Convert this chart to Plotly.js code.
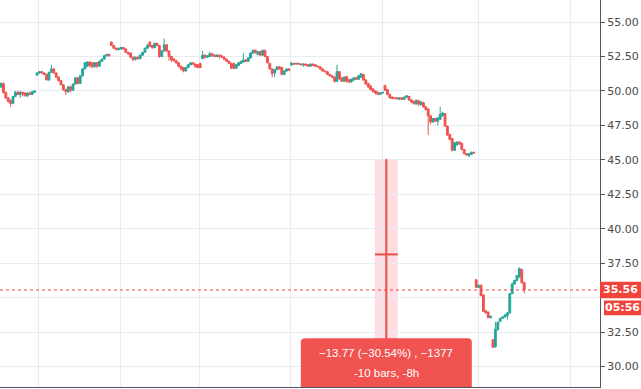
<!DOCTYPE html>
<html><head><meta charset="utf-8">
<script src="https://cdn.plot.ly/plotly-3.0.1.min.js"></script>
<style>html,body{margin:0;padding:0;background:#fff;overflow:hidden}#chart{width:641px;height:389px}</style>
</head><body><div id="chart"></div>
<script>
// OHLC values, one entry per bar
const open = [
50.3,50.55,49.9,49.5,49.3,49.1,49.6,49.9,49.75,49.9,49.85,49.65,49.85,49.75,49.9,
51.15,51.3,51.4,51.3,51.2,50.8,51.35,51.6,51.3,51.0,50.75,50.45,50.1,49.95,50.3,
50.05,50.5,50.95,50.55,51.1,51.6,51.8,52.1,52.05,51.75,52.05,51.8,52.15,52.3,52.55,52.65,
53.55,53.3,53.1,53.0,53.05,53.15,53.05,52.8,52.75,52.45,52.3,52.45,52.35,52.6,52.8,53.1,
53.55,53.3,53.15,53.45,53.3,52.5,52.9,53.35,52.9,52.5,52.3,52.2,52.05,51.8,51.7,51.45,
51.7,51.9,52.05,51.95,51.9,52.0,52.35,52.6,52.45,52.5,52.7,52.6,52.5,52.6,52.55,52.45,
52.3,52.15,52.0,52.0,51.65,51.85,52.0,52.1,52.25,52.15,52.4,52.75,52.95,52.65,52.85,52.6,
52.95,52.5,52.0,51.6,51.3,51.55,51.75,51.7,51.2,51.45,51.6,
51.9,52.0,51.95,52.0,51.95,51.9,51.95,51.9,51.8,51.95,51.9,51.8,51.75,51.6,51.45,51.4,
51.2,51.1,51.0,50.7,51.4,50.95,50.7,51.05,50.8,50.65,50.8,50.95,50.85,51.0,51.2,50.8,
50.55,50.35,50.15,50.0,49.9,49.75,49.85,50.4,50.1,49.75,49.55,49.5,49.5,49.4,49.5,49.4,
49.55,49.6,49.35,49.25,49.05,49.3,49.0,49.15,48.85,48.7,48.2,47.75,48.0,47.8,47.95,48.2,
48.35,47.45,46.85,46.55,45.7,46.1,46.3,46.2,45.75,45.45,45.3,45.4,45.55,
36.3,35.75,35.9,35.2,34.05,33.95,33.55,31.95,31.45,32.7,33.3,33.5,33.6,33.7,33.9,35.3,
36.0,36.25,36.5,37.05,36.1];
const high = [
50.6,50.6,49.95,49.55,49.4,49.65,50.0,50.0,50.0,49.95,49.9,49.9,49.95,50.0,50.05,
51.35,51.45,51.45,51.35,51.25,51.4,51.9,51.65,51.35,51.05,50.8,50.5,50.15,50.35,50.35,
50.55,51.0,51.0,51.15,51.65,52.1,52.15,52.15,52.1,52.1,52.1,52.2,52.35,52.6,52.7,52.7,
53.6,53.35,53.15,53.15,53.2,53.2,53.1,52.85,52.8,52.5,52.5,52.5,52.65,52.85,53.15,53.4,
53.6,53.35,53.5,53.5,53.35,52.95,53.8,53.4,52.95,52.55,52.4,52.25,52.1,51.85,51.75,51.75,
51.95,52.1,52.1,52.0,51.95,52.05,52.9,52.65,52.6,52.85,52.75,52.65,52.65,52.65,52.6,52.5,
52.35,52.2,52.05,52.05,51.95,52.1,52.2,52.75,52.3,52.45,52.8,53.0,53.0,52.9,52.9,53.0,
53.0,52.55,52.05,51.65,51.6,51.8,51.8,51.75,51.5,51.65,51.65,
52.1,52.05,52.05,52.05,52.0,52.0,52.0,51.95,52.0,52.0,51.95,51.85,51.8,51.65,51.5,51.45,
51.25,51.15,51.05,51.9,51.45,51.0,51.05,51.1,50.9,50.9,51.0,51.0,51.15,51.3,51.25,50.85,
50.6,50.45,50.2,50.05,49.95,49.9,49.95,50.45,50.15,49.8,49.6,49.55,49.55,49.55,49.55,49.6,
49.7,49.65,49.4,49.3,49.4,49.35,49.25,49.2,48.9,48.75,48.25,48.05,48.05,48.1,48.85,48.5,
48.4,47.5,46.9,46.6,46.3,46.35,46.35,46.25,45.8,45.5,45.5,45.6,45.6,
36.35,35.95,35.95,35.25,34.1,34.0,33.7,32.0,33.25,33.3,33.55,33.65,33.8,33.95,35.35,36.1,
36.3,36.65,37.2,37.1,36.15];
const low = [
50.2,49.8,49.4,49.15,48.85,49.05,49.55,49.7,49.5,49.6,49.6,49.55,49.7,49.7,49.85,
51.1,51.25,51.25,51.15,50.75,50.75,51.3,51.25,50.95,50.7,50.4,50.0,49.7,49.85,49.9,
50.0,50.45,50.5,50.5,51.05,51.55,51.75,51.7,51.65,51.7,51.65,51.75,52.1,52.25,52.5,52.5,
53.25,53.05,52.95,52.95,53.0,53.0,52.75,52.6,52.4,52.15,52.2,52.25,52.3,52.55,52.75,53.05,
53.2,53.05,53.1,53.25,52.4,52.45,52.85,52.85,52.2,52.1,52.1,51.95,51.7,51.5,51.35,51.4,
51.65,51.85,51.9,51.7,51.65,51.65,52.3,52.35,52.4,52.45,52.5,52.45,52.45,52.35,52.4,52.25,
52.1,51.95,51.6,51.6,51.6,51.8,51.95,52.05,52.1,52.1,52.35,52.7,52.7,52.6,52.55,52.55,
52.45,52.0,51.55,51.0,51.0,51.5,51.55,51.15,51.15,51.4,51.45,
51.8,51.9,51.9,51.9,51.85,51.75,51.8,51.75,51.75,51.8,51.75,51.7,51.55,51.4,51.35,51.15,
51.05,50.95,50.6,50.65,50.8,50.65,50.65,50.6,50.55,50.6,50.75,50.8,50.8,50.95,50.75,50.45,
50.2,50.05,49.9,49.75,49.7,49.7,49.8,50.0,49.7,49.45,49.4,49.4,49.35,49.35,49.35,49.35,
49.5,49.3,49.1,49.0,49.0,48.9,48.95,48.8,48.6,46.8,47.6,47.7,47.75,47.5,47.9,48.15,
47.4,46.75,46.4,45.6,45.65,46.0,46.1,45.7,45.4,45.3,45.2,45.35,45.45,
35.7,35.7,35.1,33.95,33.85,33.5,33.5,31.35,31.35,32.6,33.2,33.45,33.55,33.4,33.85,35.25,
35.95,36.2,36.45,36.0,35.3];
const close = [
50.55,49.9,49.5,49.25,49.1,49.6,49.9,49.75,49.9,49.8,49.65,49.85,49.75,49.95,50.0,
51.3,51.4,51.3,51.2,50.8,51.35,51.6,51.3,51.0,50.75,50.45,50.1,49.95,50.3,50.05,
50.5,50.95,50.55,51.1,51.6,52.05,52.1,51.85,51.75,52.05,51.8,52.15,52.3,52.55,52.65,52.55,
53.3,53.1,53.0,53.1,53.15,53.05,52.8,52.7,52.45,52.3,52.45,52.35,52.6,52.8,53.1,53.3,
53.25,53.15,53.45,53.3,52.5,52.9,53.35,52.9,52.5,52.25,52.2,52.05,51.8,51.6,51.45,51.7,
51.9,52.05,51.95,51.75,51.7,51.7,52.6,52.45,52.55,52.7,52.55,52.5,52.6,52.5,52.45,52.3,
52.15,52.0,51.65,51.65,51.9,52.05,52.15,52.25,52.15,52.4,52.75,52.95,52.8,52.85,52.6,52.95,
52.5,52.05,51.6,51.25,51.55,51.75,51.6,51.2,51.45,51.6,51.5,
52.0,51.95,52.0,51.95,51.9,51.95,51.85,51.8,51.95,51.85,51.8,51.75,51.6,51.45,51.4,51.2,
51.1,51.0,50.7,51.4,50.9,50.7,51.0,50.7,50.65,50.85,50.95,50.85,51.1,51.25,50.8,50.5,
50.3,50.1,49.95,49.85,49.75,49.85,49.9,50.05,49.75,49.5,49.45,49.45,49.45,49.5,49.4,49.55,
49.65,49.35,49.2,49.1,49.3,49.05,49.2,48.85,48.65,48.2,47.75,48.0,47.8,48.05,48.3,48.4,
47.45,46.8,46.5,45.7,46.25,46.3,46.15,45.75,45.45,45.35,45.45,45.55,45.5,
35.75,35.9,35.15,34.0,33.9,33.55,33.65,31.4,32.7,33.2,33.5,33.6,33.75,33.9,35.3,36.0,
36.25,36.6,37.1,36.1,35.56];

const yTickValues = [30, 32.5, 35, 37.5, 40, 42.5, 45, 47.5, 50, 52.5, 55];
// the 35.00 label sits under the last-price tag and is not shown
const yTickLabels = ['30.00','32.50','','37.50','40.00','42.50','45.00','47.50','50.00','52.50','55.00'];
const sessionStarts = [15.8, 49.6, 82.9, 120.8, 158.8, 198.75, 237.1];
const lastPrice = [35.56];
const lastPriceLabel = ['35.56'];
const countdownLabel = ['05:56'];
const measureBars = [155.8, 165.3];
const measurePrices = [45.06, 31.22];
const measureText = ['\u221213.77 (\u221230.54%) , \u22121377', '-10 bars, -8h'];

const barIndex = close.map((_, i) => i);
const red = '#ef5350', green = '#26a69a', tagRed = '#f0433a', boxRed = '#f05350';
const axisColor = '#50535e', gridColor = '#e6ecf1';
const midBar = (measureBars[0] + measureBars[1]) / 2;
const midPrice = (measurePrices[0] + measurePrices[1]) / 2;

const trace = {
  type: 'candlestick', x: barIndex, open: open, high: high, low: low, close: close,
  increasing: {line: {color: green, width: 1}, fillcolor: green},
  decreasing: {line: {color: red, width: 1}, fillcolor: red},
  whiskerwidth: 0, hoverinfo: 'skip', showlegend: false
};

const layout = {
  width: 641, height: 389,
  margin: {l: 0, r: 41, t: 0, b: 2, pad: 0},
  paper_bgcolor: '#ffffff', plot_bgcolor: '#ffffff',
  showlegend: false,
  boxgap: 0.2, boxgroupgap: 0.05,
  xaxis: {
    range: [-0.417, 249.583], tickvals: sessionStarts, showticklabels: false,
    showgrid: true, gridcolor: gridColor, gridwidth: 1, zeroline: false,
    showline: true, linecolor: axisColor, linewidth: 1, ticks: '',
    rangeslider: {visible: false}, fixedrange: true
  },
  yaxis: {
    side: 'right', range: [28.52, 56.6], tickvals: yTickValues, ticktext: yTickLabels,
    showgrid: true, gridcolor: gridColor, gridwidth: 1, zeroline: false,
    showline: true, linecolor: axisColor, linewidth: 1,
    ticks: 'outside', ticklen: 4, tickcolor: axisColor, tickwidth: 1,
    tickfont: {family: 'DejaVu Sans, sans-serif', size: 11, color: '#4a4a4a'},
    fixedrange: true
  },
  shapes: [
    {type: 'rect', layer: 'below', xref: 'x', yref: 'y', x0: measureBars[0], x1: measureBars[1],
     y0: measurePrices[1], y1: measurePrices[0], fillcolor: 'rgba(242,54,69,0.17)', line: {width: 0}},
    {type: 'line', layer: 'above', xref: 'x', yref: 'y', x0: midBar, x1: midBar,
     y0: measurePrices[1], y1: measurePrices[0], line: {color: '#f04b4b', width: 2}},
    {type: 'line', layer: 'above', xref: 'x', yref: 'y', x0: measureBars[0], x1: measureBars[1],
     y0: midPrice, y1: midPrice, line: {color: '#f04b4b', width: 2}},
    {type: 'line', layer: 'above', xref: 'paper', yref: 'y', x0: 0, x1: 1,
     y0: lastPrice[0], y1: lastPrice[0], line: {color: tagRed, width: 1, dash: 'dot'}},
    {type: 'path', layer: 'above', xref: 'x', yref: 'y', xsizemode: 'pixel', ysizemode: 'pixel',
     xanchor: midBar, yanchor: measurePrices[1],
     path: 'M -85.5 -60 L -85.5 7.5 Q -85.5 11.5 -81.5 11.5 L 81.5 11.5 Q 85.5 11.5 85.5 7.5 L 85.5 -60 Z',
     fillcolor: boxRed, line: {width: 0}},
    {type: 'rect', layer: 'above', xref: 'paper', yref: 'y', ysizemode: 'pixel', yanchor: lastPrice[0],
     x0: 1, x1: 1.07, y0: -8.3, y1: 8.3, fillcolor: tagRed, line: {width: 0}},
    {type: 'rect', layer: 'above', xref: 'paper', yref: 'y', ysizemode: 'pixel', yanchor: lastPrice[0],
     x0: 604 / 600, x1: 1.07, y0: -25.3, y1: -10.5, fillcolor: tagRed, line: {width: 0}}
  ],
  annotations: [
    {xref: 'paper', yref: 'y', x: 1.0342, y: lastPrice[0], text: '<b>' + lastPriceLabel[0] + '</b>', showarrow: false,
     font: {family: 'DejaVu Sans, sans-serif', size: 11, color: '#ffffff'}, xanchor: 'center', yanchor: 'middle'},
    {xref: 'paper', yref: 'y', x: 1.0375, y: lastPrice[0], yshift: -18, text: '<b>' + countdownLabel[0] + '</b>', showarrow: false,
     font: {family: 'DejaVu Sans, sans-serif', size: 11, color: '#ffffff'}, xanchor: 'center', yanchor: 'middle'},
    {xref: 'x', yref: 'y', x: midBar, y: measurePrices[1], yshift: -3.5, text: measureText[0], showarrow: false,
     font: {family: 'Liberation Sans, Arial, sans-serif', size: 11.5, color: '#ffffff'}, xanchor: 'center', yanchor: 'middle'},
    {xref: 'x', yref: 'y', x: midBar, y: measurePrices[1], yshift: -23.5, text: measureText[1], showarrow: false,
     font: {family: 'Liberation Sans, Arial, sans-serif', size: 11.5, color: '#ffffff'}, xanchor: 'center', yanchor: 'middle'}
  ]
};

Plotly.newPlot('chart', [trace], layout, {staticPlot: true, displayModeBar: false});
</script>
</body></html>
